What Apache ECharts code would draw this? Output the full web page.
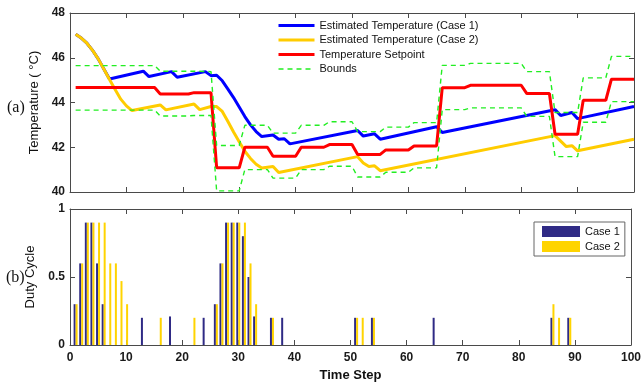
<!DOCTYPE html>
<html><head><meta charset="utf-8">
<script src="https://cdn.jsdelivr.net/npm/echarts@6/dist/echarts.min.js"></script>
<style>html,body{margin:0;padding:0;background:#fff}#c{width:644px;height:383px}</style>
</head><body><div id="c"></div>
<script>
// ---- Data (time step, value) ----
const case1Temp = [[1,47.05],[2,46.88],[3,46.65],[4,46.33],[5,45.95],[6,45.5],[7,45.05],[13,45.4],[14,45.16],[18,45.38],[19,45.13],[24,45.38],[25,45.2],[26,45.22],[27,44.97],[28,44.6],[29,44.22],[30,43.8],[31,43.37],[32,43.0],[33,42.7],[34,42.48],[36,42.55],[37,42.36],[38,42.38],[39,42.15],[51,42.75],[52,42.5],[54,42.6],[55,42.36],[65,42.92],[66,42.66],[86,43.68],[87,43.42],[89,43.55],[90,43.28],[100,43.82]];
const case2Temp = [[1,47.05],[2,46.88],[3,46.65],[4,46.33],[5,45.95],[6,45.5],[7,45.03],[8,44.58],[9,44.15],[10,43.85],[11,43.64],[16,43.89],[17,43.67],[22,43.93],[23,43.68],[25,43.82],[26,43.82],[27,43.6],[28,43.15],[29,42.68],[30,42.25],[31,41.82],[32,41.5],[33,41.24],[34,41.07],[36,41.14],[37,40.87],[51,41.58],[52,41.3],[53,41.14],[54,41.17],[55,40.95],[86,42.52],[88,42.03],[89,42.07],[90,41.84],[100,42.36]];
const setpoint = [[1,44.67],[15,44.67],[16,44.38],[21,44.38],[22,44.44],[25,44.44],[26,41.08],[30,41.08],[31,42.0],[35,42.0],[36,41.6],[40,41.6],[41,42.0],[45,42.0],[46,42.12],[50,42.12],[51,41.68],[55,41.68],[56,41.88],[60,41.88],[61,42.06],[65,42.06],[66,44.66],[70,44.66],[71,44.77],[80,44.77],[81,44.4],[85,44.4],[86,42.58],[90,42.58],[91,44.1],[95,44.1],[96,45.04],[100,45.04]];
const upperBound = [[1,45.65],[15,45.65],[16,45.4],[21,45.4],[22,45.4],[25,45.38],[26,42.08],[30,42.08],[31,42.98],[35,42.98],[36,42.63],[40,42.63],[41,42.98],[45,42.98],[46,43.14],[50,43.14],[51,42.7],[55,42.7],[56,42.9],[60,42.9],[61,43.1],[65,43.1],[66,45.66],[70,45.66],[71,45.75],[80,45.75],[81,45.38],[85,45.38],[86,43.55],[90,43.55],[91,45.1],[95,45.1],[96,46.06],[100,46.06]];
const lowerBound = [[1,43.66],[15,43.66],[16,43.4],[21,43.4],[22,43.42],[25,43.42],[26,40.05],[30,40.05],[31,41.0],[35,41.0],[36,40.62],[40,40.62],[41,41.0],[45,41.0],[46,41.15],[50,41.15],[51,40.67],[55,40.67],[56,40.88],[60,40.88],[61,41.08],[65,41.08],[66,43.68],[70,43.68],[71,43.76],[80,43.76],[81,43.38],[85,43.38],[86,41.58],[90,41.58],[91,43.12],[95,43.12],[96,44.04],[100,44.04]];

const case1Steps = [1,2,3,4,5,6,13,18,24,26,27,28,29,30,31,32,33,36,38,51,54,65,86,89];
const case1Duty  = [0.3,0.6,0.9,0.9,0.6,0.3,0.2,0.21,0.2,0.3,0.6,0.9,0.9,0.9,0.8,0.5,0.21,0.2,0.2,0.2,0.2,0.2,0.2,0.2];
const case2Steps = [1,2,3,4,5,6,7,8,9,10,16,22,26,27,28,29,30,31,32,33,36,51,52,54,86,87,89];
const case2Duty  = [0.3,0.6,0.9,0.9,0.9,0.9,0.6,0.6,0.47,0.3,0.2,0.2,0.3,0.6,0.9,0.9,0.9,0.9,0.6,0.3,0.2,0.2,0.2,0.2,0.3,0.2,0.2];

const tempTicks = {min:40, max:48, interval:2};
const dutyTicks = {min:0, max:1, interval:0.5};
const stepTicks = {min:0, max:100, interval:10};

const names = ['Estimated Temperature (Case 1)','Estimated Temperature (Case 2)','Temperature Setpoint','Bounds'];

// ---- Chart ----
const chart = echarts.init(document.getElementById('c'), null, {renderer:'canvas'});
const frame = '#4a4a4a';
const lblFont = {fontFamily:'Liberation Sans', fontWeight:'bold', fontSize:12, color:'#1a1a1a'};
function xAx(grid, pos, labels, extra){
  return Object.assign({type:'value', gridIndex:grid, position:pos, min:stepTicks.min, max:stepTicks.max, interval:stepTicks.interval,
    axisLine:{show:true, onZero:false, lineStyle:{color:frame, width:1}},
    axisTick:{show:true, inside:true, length:5, lineStyle:{color:frame}},
    axisLabel:Object.assign({show:labels, margin:7}, lblFont),
    splitLine:{show:false}}, extra||{});
}
function yAx(grid, pos, labels, t, extra){
  return Object.assign({type:'value', gridIndex:grid, position:pos, min:t.min, max:t.max, interval:t.interval,
    axisLine:{show:true, onZero:false, lineStyle:{color:frame, width:1}},
    axisTick:{show:true, inside:true, length:5, lineStyle:{color:frame}},
    axisLabel:Object.assign({show:labels, margin:5}, lblFont),
    splitLine:{show:false}}, extra||{});
}
const nameStyle = {fontFamily:'Liberation Sans', fontSize:13, color:'#111'};

chart.setOption({
  animation:false,
  backgroundColor:'#fff',
  grid:[{left:70, right:10, top:13, height:179}, {left:70, right:10, top:209, height:137}],
  xAxis:[
    xAx(0,'bottom',false), xAx(0,'top',false),
    xAx(1,'bottom',true,{name:'Time Step', nameLocation:'middle', nameGap:24, nameTextStyle:{fontFamily:'Liberation Sans', fontSize:13, fontWeight:'bold', color:'#111'}}),
    xAx(1,'top',false)
  ],
  yAxis:[
    yAx(0,'left',true,tempTicks,{name:'Temperature ( °C)', nameLocation:'middle', nameGap:23, nameTextStyle:nameStyle}),
    yAx(0,'right',false,tempTicks),
    yAx(1,'left',true,dutyTicks,{name:'Duty Cycle', nameLocation:'middle', nameGap:27, nameTextStyle:nameStyle}),
    yAx(1,'right',false,dutyTicks)
  ],
  legend:[
    {data:[
       {name:names[0], lineStyle:{width:3}},
       {name:names[1], lineStyle:{width:3}},
       {name:names[2], lineStyle:{width:3}},
       {name:names[3], lineStyle:{width:1.4}}
     ], orient:'vertical', left:277, top:20, itemWidth:36, itemHeight:12, itemGap:3.5, padding:0,
     itemStyle:{opacity:0},
     textStyle:{fontFamily:'Liberation Sans', fontSize:11, color:'#111'}, selectedMode:false},
    {data:['Case 1','Case 2'], orient:'vertical', left:534, top:222, itemWidth:38, itemHeight:11, itemGap:4,
     padding:[4,5,4,8], borderColor:'#666', borderWidth:1, backgroundColor:'#fff', icon:'rect',
     textStyle:{fontFamily:'Liberation Sans', fontSize:11, color:'#111'}, selectedMode:false}
  ],
  series:[
    {name:names[0], type:'line', xAxisIndex:0, yAxisIndex:0, data:case1Temp, symbol:'none', lineStyle:{color:'#0000ff', width:3}, itemStyle:{color:'#0000ff'}},
    {name:names[1], type:'line', xAxisIndex:0, yAxisIndex:0, data:case2Temp, symbol:'none', lineStyle:{color:'#ffcc00', width:3}, itemStyle:{color:'#ffcc00'}},
    {name:names[2], type:'line', xAxisIndex:0, yAxisIndex:0, data:setpoint, symbol:'none', lineStyle:{color:'#ff0000', width:3}, itemStyle:{color:'#ff0000'}},
    {name:names[3], type:'line', xAxisIndex:0, yAxisIndex:0, data:upperBound, symbol:'none', lineStyle:{color:'#22ee22', width:1.4, type:[5,4]}, itemStyle:{color:'#22ee22'}},
    {name:names[3], type:'line', xAxisIndex:0, yAxisIndex:0, data:lowerBound, symbol:'none', lineStyle:{color:'#22ee22', width:1.4, type:[5,4]}, itemStyle:{color:'#22ee22'}},
    {name:'Case 1', type:'bar', xAxisIndex:2, yAxisIndex:2, barWidth:2, barGap:'0%',
     data:case1Steps.map((s,i)=>[s,case1Duty[i]]), itemStyle:{color:'#2f2a85'}},
    {name:'Case 2', type:'bar', xAxisIndex:2, yAxisIndex:2, barWidth:2, barGap:'0%',
     data:case2Steps.map((s,i)=>[s,case2Duty[i]]), itemStyle:{color:'#ffd400'}}
  ],
  graphic:[
    {type:'text', left:7, top:100, style:{text:'(a)', font:'16px "Liberation Serif"', fill:'#111'}},
    {type:'text', left:6, top:270, style:{text:'(b)', font:'16px "Liberation Serif"', fill:'#111'}}
  ]
});
</script>
</body></html>
